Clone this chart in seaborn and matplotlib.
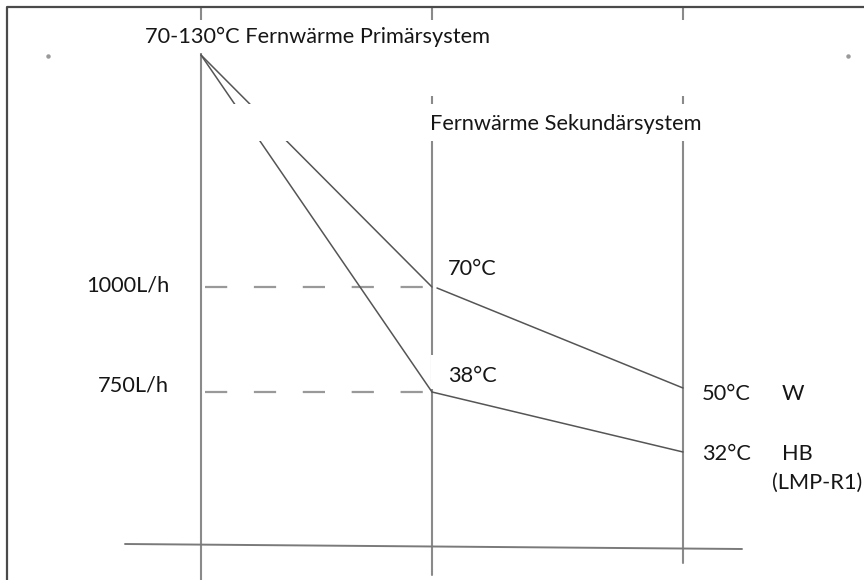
import matplotlib
matplotlib.use("Agg")
import matplotlib.pyplot as plt
import seaborn as sns
import pandas as pd
from matplotlib.patches import Rectangle

# Schematic values (drawn in picture units: x to the right, y downward)
column_x = [201, 432, 683]          # primary / secondary / consumer column
column_end = [580, 575, 563]
apex = (201, 55)                    # 70-130°C primary supply point

flow_labels = ["1000L/h", "750L/h"]
flow_y = [287, 392]

secondary_labels = ["70°C", "38°C"]
secondary_y = [287, 392]

return_labels = ["50°C", "32°C"]
return_names = ["W", "HB"]
return_y = [388, 452]

title_primary = "70-130°C Fernwärme Primärsystem"
title_secondary = "Fernwärme Sekundärsystem"
note = "(LMP-R1)"

sns.set_theme(style="white")
plt.rcParams["font.family"] = ["Lato", "DejaVu Sans"]

fig = plt.figure(figsize=(8.64, 5.8), dpi=100)
ax = fig.add_axes([0, 0, 1, 1])

txt = "#161616"
vgrey = "#8a8a8a"

# outer frame (top and left edge only visible)
ax.plot([7, 7, 864], [580, 7, 7], color="#4a4a4a", lw=1.6, zorder=5)

# vertical columns
for x, y1 in zip(column_x, column_end):
    ax.plot([x, x], [7, y1], color=vgrey, lw=1.5, zorder=1)

# bottom axis line
ax.plot([125, 742], [544, 549], color="#7a7a7a", lw=1.4, zorder=1)

# dashed flow-rate lines
for y in flow_y:
    ax.plot([205, column_x[1]], [y, y], color="#999999", lw=1.6,
            dashes=(10, 12), zorder=1)

# temperature lines: primary -> secondary supply -> consumer return
segs = []
for i, (ys, yr) in enumerate(zip(secondary_y, return_y)):
    segs.append({"seg": f"p{i}", "x": apex[0], "y": apex[1]})
    segs.append({"seg": f"p{i}", "x": column_x[1], "y": ys})
    segs.append({"seg": f"s{i}", "x": column_x[1] + (5 if i == 0 else 0), "y": ys + (1 if i == 0 else 0)})
    segs.append({"seg": f"s{i}", "x": column_x[2], "y": yr})
df = pd.DataFrame(segs)
sns.lineplot(data=df, x="x", y="y", units="seg", estimator=None, sort=False,
             color="#555555", lw=1.1, ax=ax, zorder=2)
ax.set_xlim(0, 864)
ax.set_ylim(580, 0)
ax.axis("off")

# white text boxes hiding parts of the lines
for (x0, y0, w, h) in [(130, 20, 370, 33), (420, 20, 280, 76),
                       (215, 104, 505, 37), (431, 355, 69, 34)]:
    ax.add_patch(Rectangle((x0, y0), w, h, facecolor="white",
                           edgecolor="none", zorder=3))

# small stray dots
ax.plot([48, 848], [56, 56], "o", ms=2.2, color="#9a9a9a", zorder=4)

fs = 15.7
ax.text(145, 43, title_primary, fontsize=fs, color=txt, va="baseline", zorder=6)
ax.text(430, 130, title_secondary, fontsize=fs, color=txt, va="baseline", zorder=6)

for lab, y, base in zip(flow_labels, flow_y, [292, 392]):
    ax.text(169, base, lab, fontsize=fs, color=txt, ha="right", va="baseline", zorder=6)

for lab, base in zip(secondary_labels, [275, 382]):
    ax.text(448, base, lab, fontsize=fs, color=txt, va="baseline", zorder=6)

for lab, name, base in zip(return_labels, return_names, [400, 460]):
    ax.text(702, base, lab, fontsize=fs, color=txt, va="baseline", zorder=6)
    ax.text(782, base, name, fontsize=fs, color=txt, va="baseline", zorder=6)

ax.text(772, 489, note, fontsize=fs, color=txt, va="baseline", zorder=6)

fig.savefig("out.png", dpi=100, facecolor="white")
